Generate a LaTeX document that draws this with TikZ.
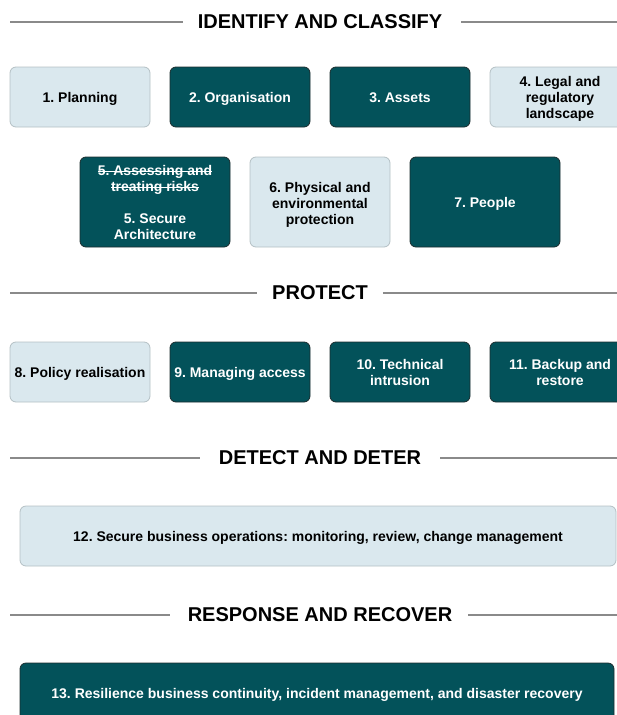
\documentclass[tikz,border=0pt]{standalone}
\usepackage{fontspec}
\setmainfont{Liberation Sans}
\frenchspacing
\definecolor{paleblue}{HTML}{DAE8EE}
\definecolor{paleedge}{HTML}{B4C0C4}
\definecolor{deepteal}{HTML}{03525A}
\definecolor{tealedge}{HTML}{1C2C2E}
\definecolor{rulegray}{HTML}{8A8A8A}
% struck-through text
\newcommand\strikeline[1]{\setbox0\hbox{#1}\rlap{\raisebox{0.26em}{\rule{\wd0}{0.9pt}}}\box0}
% struts to sit multi-line text a little lower in its box
\newcommand\headstrut[1]{\rule{0pt}{#1pt}}
\newcommand\tailstrut{\rule[-5pt]{0pt}{5pt}}
\tikzset{
  stage/.style={rectangle, rounded corners=6pt, line width=0.8pt, align=center,
    minimum width=140pt, minimum height=60pt, inner sep=2pt,
    font=\fontsize{14}{16}\selectfont\bfseries},
  oneline/.style={execute at begin node={\rule{0pt}{14pt}},
    execute at end node={\rule[-4pt]{0pt}{4pt}}},
  light/.style={stage, fill=paleblue, draw=paleedge, text=black},
  dark/.style={stage, fill=deepteal, draw=tealedge, text=white},
  heading/.style={inner sep=0pt, font=\fontsize{20}{22}\selectfont\bfseries},
  rule/.style={draw=rulegray, line width=1.3pt}
}
\begin{document}
\begin{tikzpicture}[x=1pt,y=-1pt]
\useasboundingbox (0,0) rectangle (617,715);
\clip (0,0) rectangle (617,715);
% IDENTIFY AND CLASSIFY
\node[heading] (idc) at (320,22) {IDENTIFY AND CLASSIFY};
\coordinate (idcL) at (10,22); \coordinate (idcR) at (617,22);
\draw[rule] (idcL) -- ([xshift=-15pt]idc.west);
\draw[rule] ([xshift=19pt]idc.east) -- (idcR);
% first row
\node[light, oneline] (plan) at (80,97) {1. Planning};
\node[dark, oneline] (org) at (240,97) {2. Organisation};
\node[dark, oneline] (assets) at (400,97) {3. Assets};
\node[light] (legal) at (560,97) {\headstrut{16.3}4. Legal and\\regulatory\\landscape\tailstrut};
% second row
\node[dark, minimum width=150pt, minimum height=90pt] (arch) at (155,202)
  {\headstrut{15.2}\strikeline{5. Assessing and}\\\strikeline{treating risks}\\[16pt]5. Secure\\Architecture\tailstrut};
\node[light, minimum height=90pt] (phys) at (320,202) {\headstrut{17.3}6. Physical and\\environmental\\protection\tailstrut};
\node[dark, oneline, minimum width=150pt, minimum height=90pt] (people) at (485,202) {7. People};
% PROTECT
\node[heading] (prot) at (320,293) {PROTECT};
\coordinate (protL) at (10,293); \coordinate (protR) at (617,293);
\draw[rule] (protL) -- ([xshift=-15pt]prot.west);
\draw[rule] ([xshift=15pt]prot.east) -- (protR);
% third row
\node[light, oneline] (policy) at (80,372) {8. Policy realisation};
\node[dark, oneline] (access) at (240,372) {9. Managing access};
\node[dark] (intr) at (400,372) {\headstrut{15.2}10. Technical\\intrusion\tailstrut};
\node[dark] (backup) at (560,372) {\headstrut{15.2}11. Backup and\\restore\tailstrut};
% DETECT AND DETER
\node[heading] (det) at (320,458) {DETECT AND DETER};
\coordinate (detL) at (10,458); \coordinate (detR) at (617,458);
\draw[rule] (detL) -- ([xshift=-19pt]det.west);
\draw[rule] ([xshift=19pt]det.east) -- (detR);
\node[light, oneline, minimum width=596pt] (ops) at (318,536)
  {12. Secure business operations: monitoring, review, change management};
% RESPONSE AND RECOVER
\node[heading] (resp) at (320,615) {RESPONSE AND RECOVER};
\coordinate (respL) at (10,615); \coordinate (respR) at (617,615);
\draw[rule] (respL) -- ([xshift=-18pt]resp.west);
\draw[rule] ([xshift=16pt]resp.east) -- (respR);
\node[dark, oneline, minimum width=594pt] (resil) at (317,693)
  {13. Resilience business continuity, incident management, and disaster recovery};
\end{tikzpicture}
\end{document}
